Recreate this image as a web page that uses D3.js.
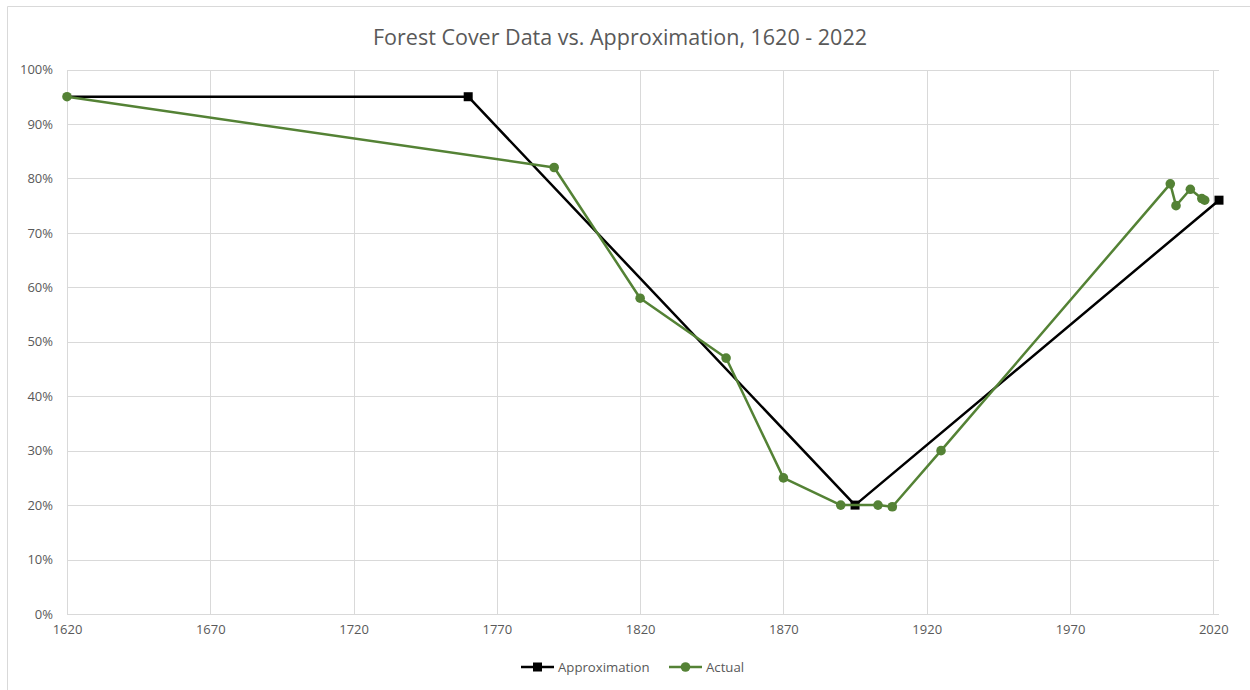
<!DOCTYPE html>
<html>
<head>
<meta charset="utf-8">
<script src="https://cdn.jsdelivr.net/npm/d3@7"></script>
<style>
  html, body { margin: 0; padding: 0; background: #fff; }
  svg { display: block; }
  text { font-family: "Open Sans", "Liberation Sans", sans-serif; fill: #595959; }
</style>
</head>
<body>
<svg id="chart" width="1250" height="690"></svg>
<script>
// Piecewise approximation of forest cover
const approxYears  = [1620, 1760, 1895, 2022];
const approxValues = [0.95, 0.95, 0.20, 0.76];

// Observed forest cover
const actualYears  = [1620, 1790, 1820, 1850, 1870, 1890, 1903, 1908, 1925, 2005, 2007, 2012, 2016, 2017];
const actualValues = [0.95, 0.82, 0.58, 0.47, 0.25, 0.20, 0.20, 0.197, 0.30, 0.79, 0.75, 0.78, 0.763, 0.76];

const xTicks = [1620, 1670, 1720, 1770, 1820, 1870, 1920, 1970, 2020];
const yTicks = [0, 0.1, 0.2, 0.3, 0.4, 0.5, 0.6, 0.7, 0.8, 0.9, 1.0];

const titleText = "Forest Cover Data vs. Approximation, 1620 - 2022";
const seriesNames = ["Approximation", "Actual"];

const W = 1250, H = 690;
const plot = { left: 67, right: 1219, top: 69.5, bottom: 614 };
const gridColor = "#d9d9d9";
const black = "#000000";
const green = "#548235";

const svg = d3.select("#chart");

// Chart-area border
svg.append("line").attr("x1", 7.5).attr("x2", 7.5).attr("y1", 6.5).attr("y2", H)
  .attr("stroke", gridColor).attr("stroke-width", 1);
svg.append("line").attr("x1", 7.5).attr("x2", W).attr("y1", 6.5).attr("y2", 6.5)
  .attr("stroke", gridColor).attr("stroke-width", 1);

const x = d3.scaleLinear().domain([1620, 2022]).range([plot.left, plot.right]);
const y = d3.scaleLinear().domain([0, 1]).range([plot.bottom, plot.top]);

// Horizontal gridlines + y labels
const yAxis = d3.axisLeft(y).tickValues(yTicks).tickFormat(d3.format(".0%"))
  .tickSize(-(plot.right - plot.left)).tickPadding(14);
const gy = svg.append("g").attr("transform", `translate(${plot.left},0)`).call(yAxis);
gy.select(".domain").remove();
gy.selectAll(".tick line").attr("stroke", gridColor).attr("shape-rendering", "crispEdges");
gy.selectAll(".tick text").attr("font-size", 13).style("fill", "#595959")
  .style("font-family", "'Open Sans', sans-serif");

// Vertical gridlines + x labels
const xAxis = d3.axisBottom(x).tickValues(xTicks).tickFormat(d3.format("d"))
  .tickSize(-(plot.bottom - plot.top)).tickPadding(11);
const gx = svg.append("g").attr("transform", `translate(0,${plot.bottom})`).call(xAxis);
gx.select(".domain").remove();
gx.selectAll(".tick line").attr("stroke", gridColor).attr("shape-rendering", "crispEdges");
gx.selectAll(".tick text").attr("font-size", 13).style("fill", "#595959")
  .style("font-family", "'Open Sans', sans-serif");

// Title
svg.append("text").attr("x", 620).attr("y", 45).attr("text-anchor", "middle")
  .attr("font-size", 21.5).text(titleText);

const line = d3.line().x(d => x(d[0])).y(d => y(d[1]));

const approx = approxYears.map((yr, i) => [yr, approxValues[i]]);
const actual = actualYears.map((yr, i) => [yr, actualValues[i]]);

// Approximation series (a point shared with the observed series shows only its circle)
const sharesActual = d => actual.some(a => a[0] === d[0] && a[1] === d[1]);
svg.append("path").datum(approx).attr("d", line)
  .attr("fill", "none").attr("stroke", black).attr("stroke-width", 2.5)
  .attr("stroke-linejoin", "round");
svg.selectAll("rect.approx").data(approx.filter(d => !sharesActual(d))).join("rect").attr("class", "approx")
  .attr("x", d => x(d[0]) - 4.5).attr("y", d => y(d[1]) - 4.5)
  .attr("width", 9).attr("height", 9).attr("fill", black);

// Actual series
svg.append("path").datum(actual).attr("d", line)
  .attr("fill", "none").attr("stroke", green).attr("stroke-width", 2.5)
  .attr("stroke-linejoin", "round");
svg.selectAll("circle.actual").data(actual).join("circle").attr("class", "actual")
  .attr("cx", d => x(d[0])).attr("cy", d => y(d[1])).attr("r", 4.8).attr("fill", green);

// Legend
const legend = svg.append("g").attr("transform", "translate(521,667)");
const items = [
  { name: seriesNames[0], color: black, shape: "square", dx: 0 },
  { name: seriesNames[1], color: green, shape: "circle", dx: 148 }
];
items.forEach(it => {
  const g = legend.append("g").attr("transform", `translate(${it.dx},0)`);
  g.append("line").attr("x1", 0).attr("x2", 33).attr("y1", 0).attr("y2", 0)
    .attr("stroke", it.color).attr("stroke-width", 2.5);
  if (it.shape === "square") {
    g.append("rect").attr("x", 12).attr("y", -4.5).attr("width", 9).attr("height", 9).attr("fill", it.color);
  } else {
    g.append("circle").attr("cx", 16.5).attr("cy", 0).attr("r", 4.8).attr("fill", it.color);
  }
  g.append("text").attr("x", 37).attr("y", 0).attr("dy", "0.35em")
    .attr("font-size", 13.2).text(it.name);
});
</script>
</body>
</html>
